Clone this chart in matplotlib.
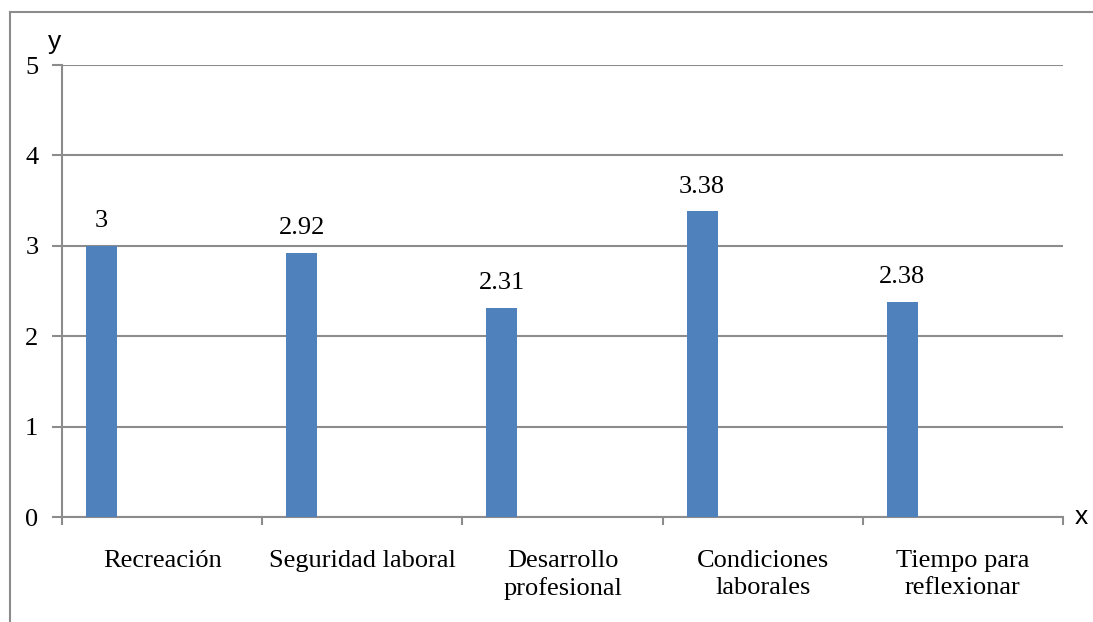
import matplotlib.pyplot as plt
from matplotlib.lines import Line2D
import numpy as np

categories = ["Recreación", "Seguridad laboral", "Desarrollo\nprofesional",
              "Condiciones\nlaborales", "Tiempo para\nreflexionar"]
values = [3, 2.92, 2.31, 3.38, 2.38]
value_labels = ["3", "2.92", "2.31", "3.38", "2.38"]
y_ticks = [0, 1, 2, 3, 4, 5]

bar_color = "#4F81BD"
axis_gray = "#8C8C8C"
serif = ["Liberation Serif", "DejaVu Serif"]
sans = ["Liberation Sans", "DejaVu Sans"]
fs = 19

W, H = 1093, 622
fig = plt.figure(figsize=(W / 100, H / 100), dpi=100)
ax = fig.add_axes([62 / W, (H - 517) / H, (1063 - 62) / W, (517 - 65) / H])

n = len(categories)
slots = np.arange(n)
# bars sit in the left part of each category slot
ax.bar(slots + 0.1975, values, width=0.155, color=bar_color, zorder=3)

for x, v, lab in zip(slots + 0.1975, values, value_labels):
    ax.annotate(lab, (x, v), xytext=(0, 10), textcoords="offset points",
                ha="center", va="bottom", fontsize=fs, family=serif)

ax.set_xlim(0, n)
ax.set_ylim(0, 5)
ax.set_yticks(y_ticks)
ax.set_yticklabels([str(t) for t in y_ticks], fontsize=fs, family=serif)
ax.yaxis.grid(True, color=axis_gray, lw=1.5, zorder=0)
ax.set_axisbelow(True)

ax.set_xticks(np.arange(n + 1))
ax.set_xticklabels([])
ax.set_xticks(slots + 0.5, minor=True)
ax.set_xticklabels(categories, minor=True, fontsize=fs, family=serif,
                   linespacing=1.28)
ax.tick_params(axis="x", which="minor", length=0, pad=24)
ax.tick_params(axis="x", which="major", length=6, width=1.5, color=axis_gray)
ax.tick_params(axis="y", length=7, width=1.5, color=axis_gray, pad=10)

for side in ("top", "right"):
    ax.spines[side].set_visible(False)
for side in ("left", "bottom"):
    ax.spines[side].set_color(axis_gray)
    ax.spines[side].set_linewidth(1.5)

fig.text(55 / W, 1 - 42 / H, "y", fontsize=fs, family=sans, ha="center", va="center")
fig.text(1081 / W, 1 - 517 / H, "x", fontsize=fs, family=sans, ha="center", va="center")

# outer frame
fig.add_artist(Line2D([10 / W, 1], [1 - 12 / H, 1 - 12 / H], color=axis_gray, lw=1.5))
fig.add_artist(Line2D([10 / W, 10 / W], [0, 1 - 12 / H], color=axis_gray, lw=1.5))

fig.savefig("out.png", dpi=100)
